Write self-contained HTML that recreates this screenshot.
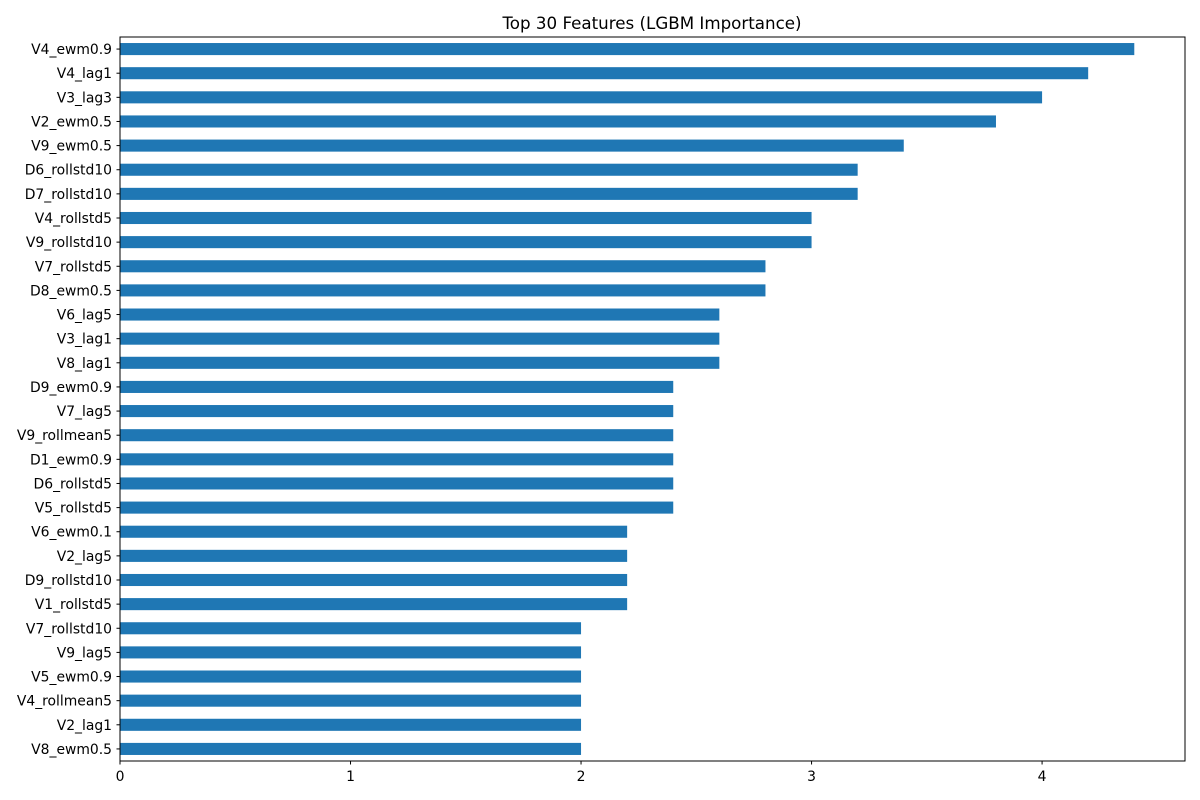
<!DOCTYPE html>
<html><head><meta charset="utf-8"><style>
body{margin:0;background:#fff;}
svg{display:block;font-family:"DejaVu Sans","Liberation Sans",sans-serif;}
</style></head><body>
<svg id="chart" width="1200" height="800">
<text x="652" y="29" text-anchor="middle" font-size="16.7">Top 30 Features (LGBM Importance)</text>
<g id="bars"></g>
<g id="yticks"></g>
<g id="xticks"></g>
<rect x="120" y="37" width="1065" height="724" fill="none" stroke="#000" stroke-width="1"/>
</svg>
<script>
const features = ["V4_ewm0.9","V4_lag1","V3_lag3","V2_ewm0.5","V9_ewm0.5","D6_rollstd10","D7_rollstd10","V4_rollstd5","V9_rollstd10","V7_rollstd5","D8_ewm0.5","V6_lag5","V3_lag1","V8_lag1","D9_ewm0.9","V7_lag5","V9_rollmean5","D1_ewm0.9","D6_rollstd5","V5_rollstd5","V6_ewm0.1","V2_lag5","D9_rollstd10","V1_rollstd5","V7_rollstd10","V9_lag5","V5_ewm0.9","V4_rollmean5","V2_lag1","V8_ewm0.5"];
const importance = [4.4,4.2,4.0,3.8,3.4,3.2,3.2,3.0,3.0,2.8,2.8,2.6,2.6,2.6,2.4,2.4,2.4,2.4,2.4,2.4,2.2,2.2,2.2,2.2,2.0,2.0,2.0,2.0,2.0,2.0];
const xTicks = [0,1,2,3,4];

const NS="http://www.w3.org/2000/svg";
const L=120,R=1185,T=37,B=761;
const xmax=Math.max(...importance)*1.05;
const xs=v=>L+v/xmax*(R-L);
const n=features.length;
const step=(B-T)/n;
const yc=i=>T+step*(i+0.5);
const bars=document.getElementById('bars'),yt=document.getElementById('yticks'),xt=document.getElementById('xticks');
function mk(tag,attrs,parent){const e=document.createElementNS(NS,tag);for(const k in attrs)e.setAttribute(k,attrs[k]);parent.appendChild(e);return e;}
features.forEach((f,i)=>{
  const r=mk('rect',{x:xs(0),y:yc(i)-step*0.25,width:xs(importance[i])-xs(0),height:step*0.5,fill:'#1f77b4'},bars);
  
  
  const tk=mk('line',{x1:L-3.5,x2:L,y1:yc(i),y2:yc(i),stroke:'#000'},yt);
  
  
  const t=mk('text',{x:L-8,y:yc(i)+5,'text-anchor':'end','font-size':'13.9'},yt);
  t.textContent=f;
  
  
});
xTicks.forEach(v=>{
  const tk=mk('line',{x1:xs(v),x2:xs(v),y1:B,y2:B+3.5,stroke:'#000'},xt);
  
  
  const t=mk('text',{x:xs(v),y:B+20,'text-anchor':'middle','font-size':'13.9'},xt);
  t.textContent=v;
  
  
});
</script>
</body></html>
